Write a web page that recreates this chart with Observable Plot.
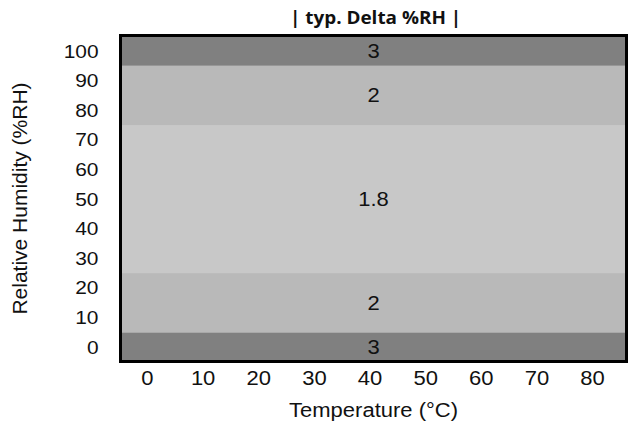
<!DOCTYPE html>
<html><head><meta charset="utf-8">
<script src="https://cdn.jsdelivr.net/npm/d3@7"></script>
<script src="https://cdn.jsdelivr.net/npm/@observablehq/plot@0.6"></script>
<style>
body{margin:0;background:#fff;}
#title{height:30px;margin-left:123px;width:506px;text-align:center;font:bold 18px "Open Sans";line-height:35px;color:#111;}
#title span{display:inline-block;transform:scaleX(1.05);}
</style></head><body>
<div id="title"><span>| typ. Delta %RH |</span></div>
<div id="chart"></div>
<script>
// data
const bandLow = [-5, 5, 25, 75, 95];
const bandHigh = [5, 25, 75, 95, 105];
const bandValue = ["3", "2", "1.8", "2", "3"];
const xTicks = [0, 10, 20, 30, 40, 50, 60, 70, 80];
const yTicks = [0, 10, 20, 30, 40, 50, 60, 70, 80, 90, 100];
const xDomain = [-4.85, 86.1];
const yDomain = [-4.7, 105.4];
const xLabel = "Temperature (°C)";
const yLabel = "Relative Humidity (%RH)";

// styles
const bandColor = {"3": "#808080", "2": "#b9b9b9", "1.8": "#c8c8c8"};
const font = "Liberation Sans, Arial, sans-serif";

const bands = bandValue.map((v, i) => ({lo: bandLow[i], hi: bandHigh[i], v}));

const chart = Plot.plot({
  width: 629, height: 393,
  marginTop: 5, marginBottom: 62, marginLeft: 120, marginRight: 3,
  style: {fontFamily: font, color: "#111", background: "#fff"},
  x: {domain: xDomain},
  y: {domain: yDomain},
  marks: [
    Plot.rect(bands, {y1: "lo", y2: "hi", fill: d => bandColor[d.v], clip: true}),
    Plot.text(bands, {y: d => (Math.max(d.lo, yDomain[0]) + Math.min(d.hi, yDomain[1])) / 2, text: "v", frameAnchor: "middle", fontSize: 20, fill: "#111"}),
    Plot.frame({stroke: "black", strokeWidth: 3}),
    Plot.axisX({ticks: xTicks, tickSize: 0, tickPadding: 9, fontSize: 20, label: xLabel, labelAnchor: "center", labelArrow: "none", labelOffset: 55}),
    Plot.axisY({ticks: yTicks, tickSize: 0, tickPadding: 22, fontSize: 19, label: null}),
    Plot.axisY({ticks: [], tickSize: 0, fontSize: 21, label: yLabel, labelAnchor: "center", labelArrow: "none", labelOffset: 108})
  ]
});
document.getElementById("chart").appendChild(chart);
// horizontal stretch of the glyphs, as in the reference rendering (horizontal text only)
chart.querySelectorAll("text").forEach(t => {
  const tr = (t.getAttribute("transform") || "") + " " + ((t.parentNode.getAttribute && t.parentNode.getAttribute("transform")) || "");
  if (/rotate/.test(tr)) return;
  const len = t.getComputedTextLength();
  if (len > 0) {
    t.setAttribute("textLength", len * 1.1);
    t.setAttribute("lengthAdjust", "spacingAndGlyphs");
  }
});
</script>
</body></html>
